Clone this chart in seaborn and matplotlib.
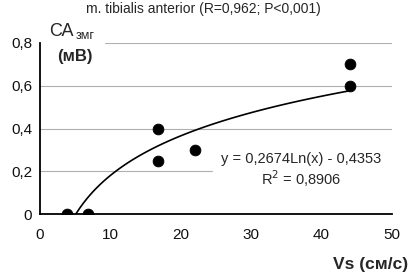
import numpy as np
import pandas as pd
import matplotlib
matplotlib.use('Agg')
import matplotlib.pyplot as plt
import seaborn as sns
from matplotlib.ticker import FuncFormatter

# data
vs = [3.8, 6.8, 16.7, 16.7, 22.0, 44.0, 44.0]
ca = [0.0, 0.0, 0.40, 0.25, 0.30, 0.70, 0.60]
# log trend from the chart's own equation
coef_a = 0.2674
coef_b = -0.4353
trend_x = np.linspace(5.1, 44.0, 80)
trend_y = coef_a * np.log(trend_x) + coef_b

df = pd.DataFrame({'vs': vs, 'ca': ca})
trend = pd.DataFrame({'x': trend_x, 'y': trend_y})

sns.set_style('white')
plt.rcParams['font.family'] = ['Liberation Sans', 'DejaVu Sans']

fig = plt.figure(figsize=(4.1, 2.8), dpi=100)
ax = fig.add_axes([40/410, 1 - 214/280, 352/410, 171/280])

for yv in [0.2, 0.4, 0.6, 0.8]:
    xs = 0
    xe = 50
    if yv == 0.8:
        xs = 9.2
    if yv == 0.2:
        xe = 24.5
    ax.plot([xs, xe], [yv, yv], color='#b0b0b0', lw=0.8, zorder=0)

sns.lineplot(data=trend, x='x', y='y', color='black', lw=1.2, ax=ax)
sns.scatterplot(data=df, x='vs', y='ca', color='black', s=60, edgecolor='black', zorder=3, ax=ax)

ax.set_xlim(0, 50)
ax.set_ylim(0, 0.8)
ax.set_xticks([0, 10, 20, 30, 40, 50])
ax.set_yticks([0, 0.2, 0.4, 0.6, 0.8])
fmt = FuncFormatter(lambda v, p: ('%g' % round(v, 1)).replace('.', ','))
ax.xaxis.set_major_formatter(fmt)
ax.yaxis.set_major_formatter(fmt)
ax.tick_params(axis='y', direction='inout', length=7, width=1.2, labelsize=11, colors='#111111', pad=2)
ax.tick_params(axis='x', direction='out', length=4, width=1.2, labelsize=11, colors='#111111', pad=6)
ax.set_xlabel('')
ax.set_ylabel('')
for s in ['top', 'right']:
    ax.spines[s].set_visible(False)
for s in ['left', 'bottom']:
    ax.spines[s].set_color('black')
    ax.spines[s].set_linewidth(1.3)

fig.text(203/410, 1 - 9/280, 'm. tibialis anterior (R=0,962; P<0,001)', ha='center', va='center', fontsize=10)
fig.text(49/410, 1 - 32/280, 'СА', ha='left', va='center', fontsize=13)
fig.text(76/410, 1 - 36/280, 'змг', ha='left', va='center', fontsize=9)
fig.text(57/410, 1 - 56/280, '(мВ)', ha='left', va='center', fontsize=12, fontweight='bold')
fig.text(408/410, 1 - 265/280, 'Vs (см/с)', ha='right', va='center', fontsize=12.5, fontweight='bold')
ax.text(37.1, 0.255, 'y = 0,2674Ln(x) - 0,4353', ha='center', va='center', fontsize=10.5)
ax.text(37.1, 0.165, 'R$^2$ = 0,8906', ha='center', va='center', fontsize=10.5)

fig.savefig('out.png', dpi=100)
